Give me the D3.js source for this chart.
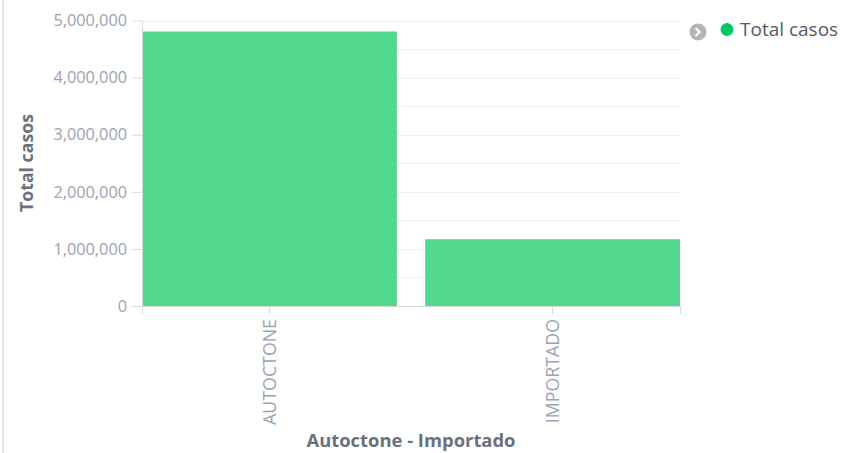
<!DOCTYPE html>
<html>
<head>
<meta charset="utf-8">
<script src="https://cdn.jsdelivr.net/npm/d3@7/dist/d3.min.js"></script>
<style>
html,body{margin:0;padding:0;background:#fff;}
svg{display:block;font-family:"Open Sans",sans-serif;}
</style>
</head>
<body>
<svg id="chart" width="844" height="453"></svg>
<script>
const categories = ["AUTOCTONE", "IMPORTADO"];
const totalCasos = [4807000, 1169000];
const yTicks = [0, 1000000, 2000000, 3000000, 4000000, 5000000];
const seriesName = "Total casos";
const xTitle = "Autoctone - Importado";

(function () {
const svg = d3.select("#chart");
const mLeft = 142, mRight = 680, mTop = 20.5, mBottom = 306;

// left border
svg.append("rect").attr("x", 2).attr("y", 0).attr("width", 2).attr("height", 453).attr("fill", "#e3e3e3");

const x = d3.scaleBand().domain(categories).range([mLeft, mRight]).paddingInner(0.1).paddingOuter(0);
const y = d3.scaleLinear().domain([0, 5000000]).range([mBottom, mTop]);

// grid
svg.append("g").selectAll("line").data(d3.range(500000, 5000001, 500000)).join("line")
  .attr("x1", mLeft).attr("x2", mRight)
  .attr("y1", d => Math.round(y(d)) + 0.5).attr("y2", d => Math.round(y(d)) + 0.5)
  .attr("stroke", "#efefef").attr("stroke-width", 1);

// bars
svg.append("g").selectAll("rect").data(categories).join("rect")
  .attr("x", d => x(d))
  .attr("width", x.bandwidth())
  .attr("y", (d, i) => y(totalCasos[i]))
  .attr("height", (d, i) => y(0) - y(totalCasos[i]))
  .attr("fill", "#52d98f");

// y axis
const yAxis = svg.append("g").attr("transform", `translate(${mLeft},0)`)
  .call(d3.axisLeft(y).tickValues(yTicks).tickFormat(d3.format(",")).tickSize(10).tickSizeOuter(0).tickPadding(5));
yAxis.select(".domain").attr("stroke", "#d9d9d9");
yAxis.selectAll(".tick line").attr("stroke", "#d9d9d9");
yAxis.selectAll(".tick text").attr("fill", "#9aa3b1").attr("font-size", 16.3).attr("font-family", "Open Sans");

// x axis
const xAxis = svg.append("g").attr("transform", `translate(0,${mBottom})`)
  .call(d3.axisBottom(x).tickSize(8).tickSizeOuter(8).tickPadding(4));
xAxis.select(".domain").attr("stroke", "#d9d9d9");
xAxis.selectAll(".tick line").attr("stroke", "#d9d9d9");
xAxis.selectAll(".tick text")
  .attr("fill", "#9aa3b1").attr("font-size", 17.8).attr("font-family", "Open Sans")
  .attr("transform", "rotate(-90)")
  .attr("text-anchor", "end")
  .attr("x", -13).attr("y", 0).attr("dy", "0.35em");

// axis titles
svg.append("text").attr("transform", "translate(27,163) rotate(-90)")
  .attr("text-anchor", "middle").attr("dy", "0.35em").attr("font-size", 17.7).attr("font-weight", "bold")
  .attr("fill", "#6a717d").text(seriesName);
svg.append("text").attr("x", 411).attr("y", 447)
  .attr("text-anchor", "middle").attr("font-size", 18.4).attr("font-weight", "bold")
  .attr("fill", "#6a717d").text(xTitle);

// legend
const lg = svg.append("g");
lg.append("circle").attr("cx", 698).attr("cy", 32).attr("r", 8.5).attr("fill", "#b4b4b4");
lg.append("path").attr("d", "M695.5,28 L699.5,32 L695.5,36").attr("fill", "none").attr("stroke", "#fff").attr("stroke-width", 2.2);
lg.append("circle").attr("cx", 727).attr("cy", 29.5).attr("r", 6.5).attr("fill", "#00c962");
lg.append("text").attr("x", 740).attr("y", 36).attr("font-size", 19)
  .attr("fill", "#535966").text(seriesName);
})();
</script>
</body>
</html>
